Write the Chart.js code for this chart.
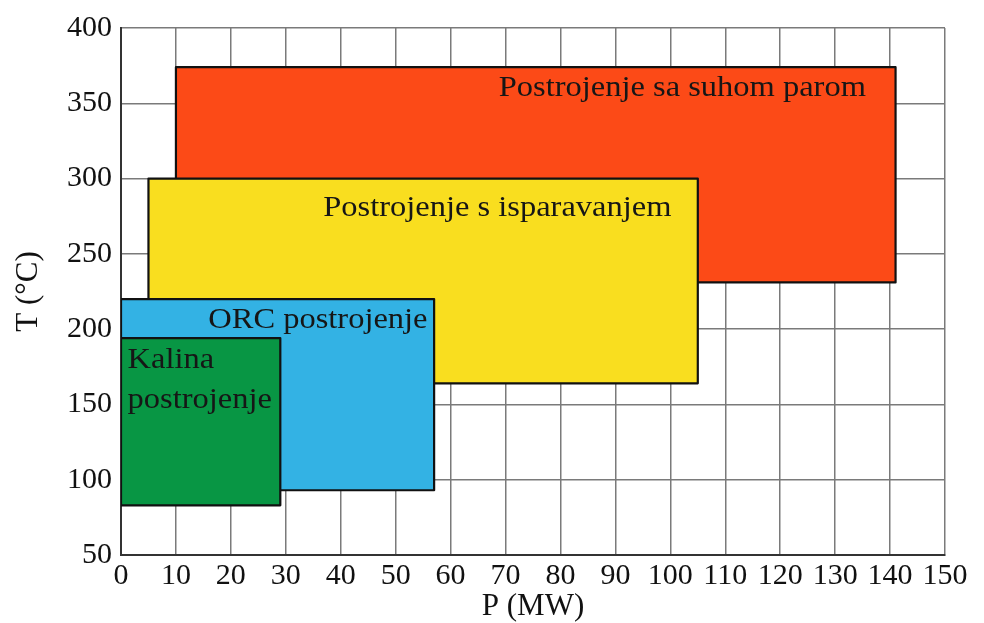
<!DOCTYPE html>
<html>
<head>
<meta charset="utf-8">
<script src="https://cdn.jsdelivr.net/npm/chart.js@4.4.1/dist/chart.umd.min.js"></script>
<style>
  html, body { margin: 0; padding: 0; background: #ffffff; }
  #wrap { width: 984px; height: 623px; }
</style>
</head>
<body>
<div id="wrap"><canvas id="c" width="984" height="623"></canvas></div>
<script>
// Plant types (drawn bottom to top: red, yellow, blue, green)
const plantNames = ['Kalina postrojenje', 'ORC postrojenje', 'Postrojenje s isparavanjem', 'Postrojenje sa suhom parom'];
// Power range P (MW)
const powerMin = [0, 0, 5, 10];
const powerMax = [29, 57, 105, 141];
// Temperature range T (°C)
const tempMin = [83, 93, 164, 231];
const tempMax = [194, 220, 300, 374];
const plantColors = ['#089644', '#33b2e4', '#f9de1f', '#fc4a17'];
// Label text lines and anchors (data units)
const labelLines = [['Kalina', 'postrojenje'], ['ORC postrojenje'], ['Postrojenje s isparavanjem'], ['Postrojenje sa suhom parom']];
const labelX = [1.2, 55.8, 100.2, 135.6];
const labelY = [179, 206, 280, 360];
const labelAlign = ['left', 'right', 'right', 'right'];
// Axis ticks
const xTicks = [0, 10, 20, 30, 40, 50, 60, 70, 80, 90, 100, 110, 120, 130, 140, 150];
const yTicks = [50, 100, 150, 200, 250, 300, 350, 400];

const serif = "'Liberation Serif', 'Times New Roman', serif";

const datasets = plantNames.map((name, i) => ({
  label: name,
  data: [
    {x: powerMin[i], y: tempMin[i]},
    {x: powerMax[i], y: tempMin[i]},
    {x: powerMax[i], y: tempMax[i]},
    {x: powerMin[i], y: tempMax[i]},
    {x: powerMin[i], y: tempMin[i]}
  ],
  showLine: true,
  fill: 'shape',
  backgroundColor: plantColors[i],
  borderColor: '#111111',
  borderWidth: 2.2,
  borderJoinStyle: 'round',
  pointRadius: 0,
  pointHoverRadius: 0,
  tension: 0
}));

const labelPlugin = {
  id: 'plantLabels',
  afterDatasetsDraw(chart) {
    const {ctx, scales} = chart;
    labelLines.forEach((lines, i) => {
      const px = scales.x.getPixelForValue(labelX[i]);
      const py = scales.y.getPixelForValue(labelY[i]);
      ctx.save();
      ctx.fillStyle = '#161616';
      ctx.font = '29px ' + serif;
      ctx.textBaseline = 'middle';
      ctx.textAlign = labelAlign[i];
      ctx.translate(px, py);
      ctx.scale(1.12, 1);
      lines.forEach((t, k) => {
        ctx.fillText(t, 0, k * 40);
      });
      ctx.restore();
    });
  }
};

new Chart(document.getElementById('c'), {
  type: 'scatter',
  data: { datasets },
  options: {
    responsive: false,
    animation: false,
    events: [],
    layout: { padding: { left: 10, right: 39, top: 28, bottom: 0 } },
    plugins: {
      legend: { display: false },
      tooltip: { enabled: false }
    },
    scales: {
      x: {
        type: 'linear',
        min: 0, max: 150,
        afterBuildTicks(scale) { scale.ticks = xTicks.map(v => ({value: v})); },
        afterFit(scale) { scale.height = 68; },
        grid: { color: '#7a7a7a', lineWidth: 1.5, drawTicks: false },
        border: { color: '#333333', width: 2 },
        ticks: { color: '#111111', font: { family: serif, size: 30 }, padding: 3, maxRotation: 0, autoSkip: false },
        title: { display: true, text: 'P (MW)', color: '#111111', font: { family: serif, size: 31 }, padding: { top: -6, bottom: -2 } }
      },
      y: {
        type: 'linear',
        min: 50, max: 400,
        afterBuildTicks(scale) { scale.ticks = yTicks.map(v => ({value: v})); },
        afterFit(scale) { scale.width = 111; },
        grid: { color: '#7a7a7a', lineWidth: 1.5, drawTicks: false },
        border: { color: '#333333', width: 2 },
        ticks: { color: '#111111', font: { family: serif, size: 30 }, padding: 9, autoSkip: false },
        title: { display: true, text: 'T (°C)', color: '#111111', font: { family: serif, size: 31 }, padding: { top: 0, bottom: 0 } }
      }
    }
  },
  plugins: [labelPlugin]
});
</script>
</body>
</html>
